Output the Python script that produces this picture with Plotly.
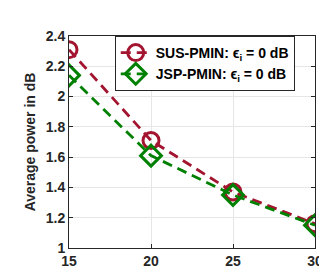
import plotly.graph_objects as go

snr = [15, 20, 25, 30]
sus_pmin = [2.31, 1.71, 1.37, 1.16]
jsp_pmin = [2.14, 1.61, 1.35, 1.15]
x_ticks = [15, 20, 25, 30]
y_ticks = [1, 1.2, 1.4, 1.6, 1.8, 2, 2.2, 2.4]
y_tick_labels = ["1", "1.2", "1.4", "1.6", "1.8", "2", "2.2", "2.4"]

fig = go.Figure()
fig.add_trace(go.Scatter(
    x=snr, y=sus_pmin, mode="lines+markers",
    name="SUS-PMIN: ϵ<sub>i</sub> = 0 dB",
    line=dict(color="#A2142F", width=2.8, dash="10px,6px"),
    marker=dict(symbol="circle-open", size=16, color="#A2142F", line=dict(width=3)),
))
fig.add_trace(go.Scatter(
    x=snr, y=jsp_pmin, mode="lines+markers",
    name="JSP-PMIN: ϵ<sub>i</sub> = 0 dB",
    line=dict(color="#008000", width=2.8, dash="10px,6px"),
    marker=dict(symbol="diamond-open", size=16, color="#008000", line=dict(width=3)),
))

axis_common = dict(
    showgrid=True, gridcolor="#e6e6e6", gridwidth=1,
    showline=True, linecolor="#262626", linewidth=1, mirror="ticks",
    ticks="inside", ticklen=4, tickcolor="#262626",
    zeroline=False,
    tickfont=dict(family="Liberation Sans, Arial", size=14, color="#262626", weight="bold"),
)

fig.update_layout(
    width=327, height=273,
    margin=dict(l=61, r=13, t=28, b=24),
    paper_bgcolor="white", plot_bgcolor="white",
    xaxis=dict(range=[15, 30], tickvals=x_ticks, **axis_common),
    yaxis=dict(range=[1, 2.4], tickvals=y_ticks, ticktext=y_tick_labels,
               title=dict(text="Average power in dB", standoff=6,
                          font=dict(family="Liberation Sans, Arial", size=14, color="#262626", weight="bold")),
               **axis_common),
    legend=dict(
        x=0.186, y=1.0, xanchor="left", yanchor="top",
        bgcolor="white", bordercolor="#262626", borderwidth=1,
        font=dict(family="Liberation Sans, Arial", size=14, color="black", weight="bold"),
        itemwidth=30, tracegroupgap=0,
    ),
    showlegend=True,
)

fig.write_html("out.html")
